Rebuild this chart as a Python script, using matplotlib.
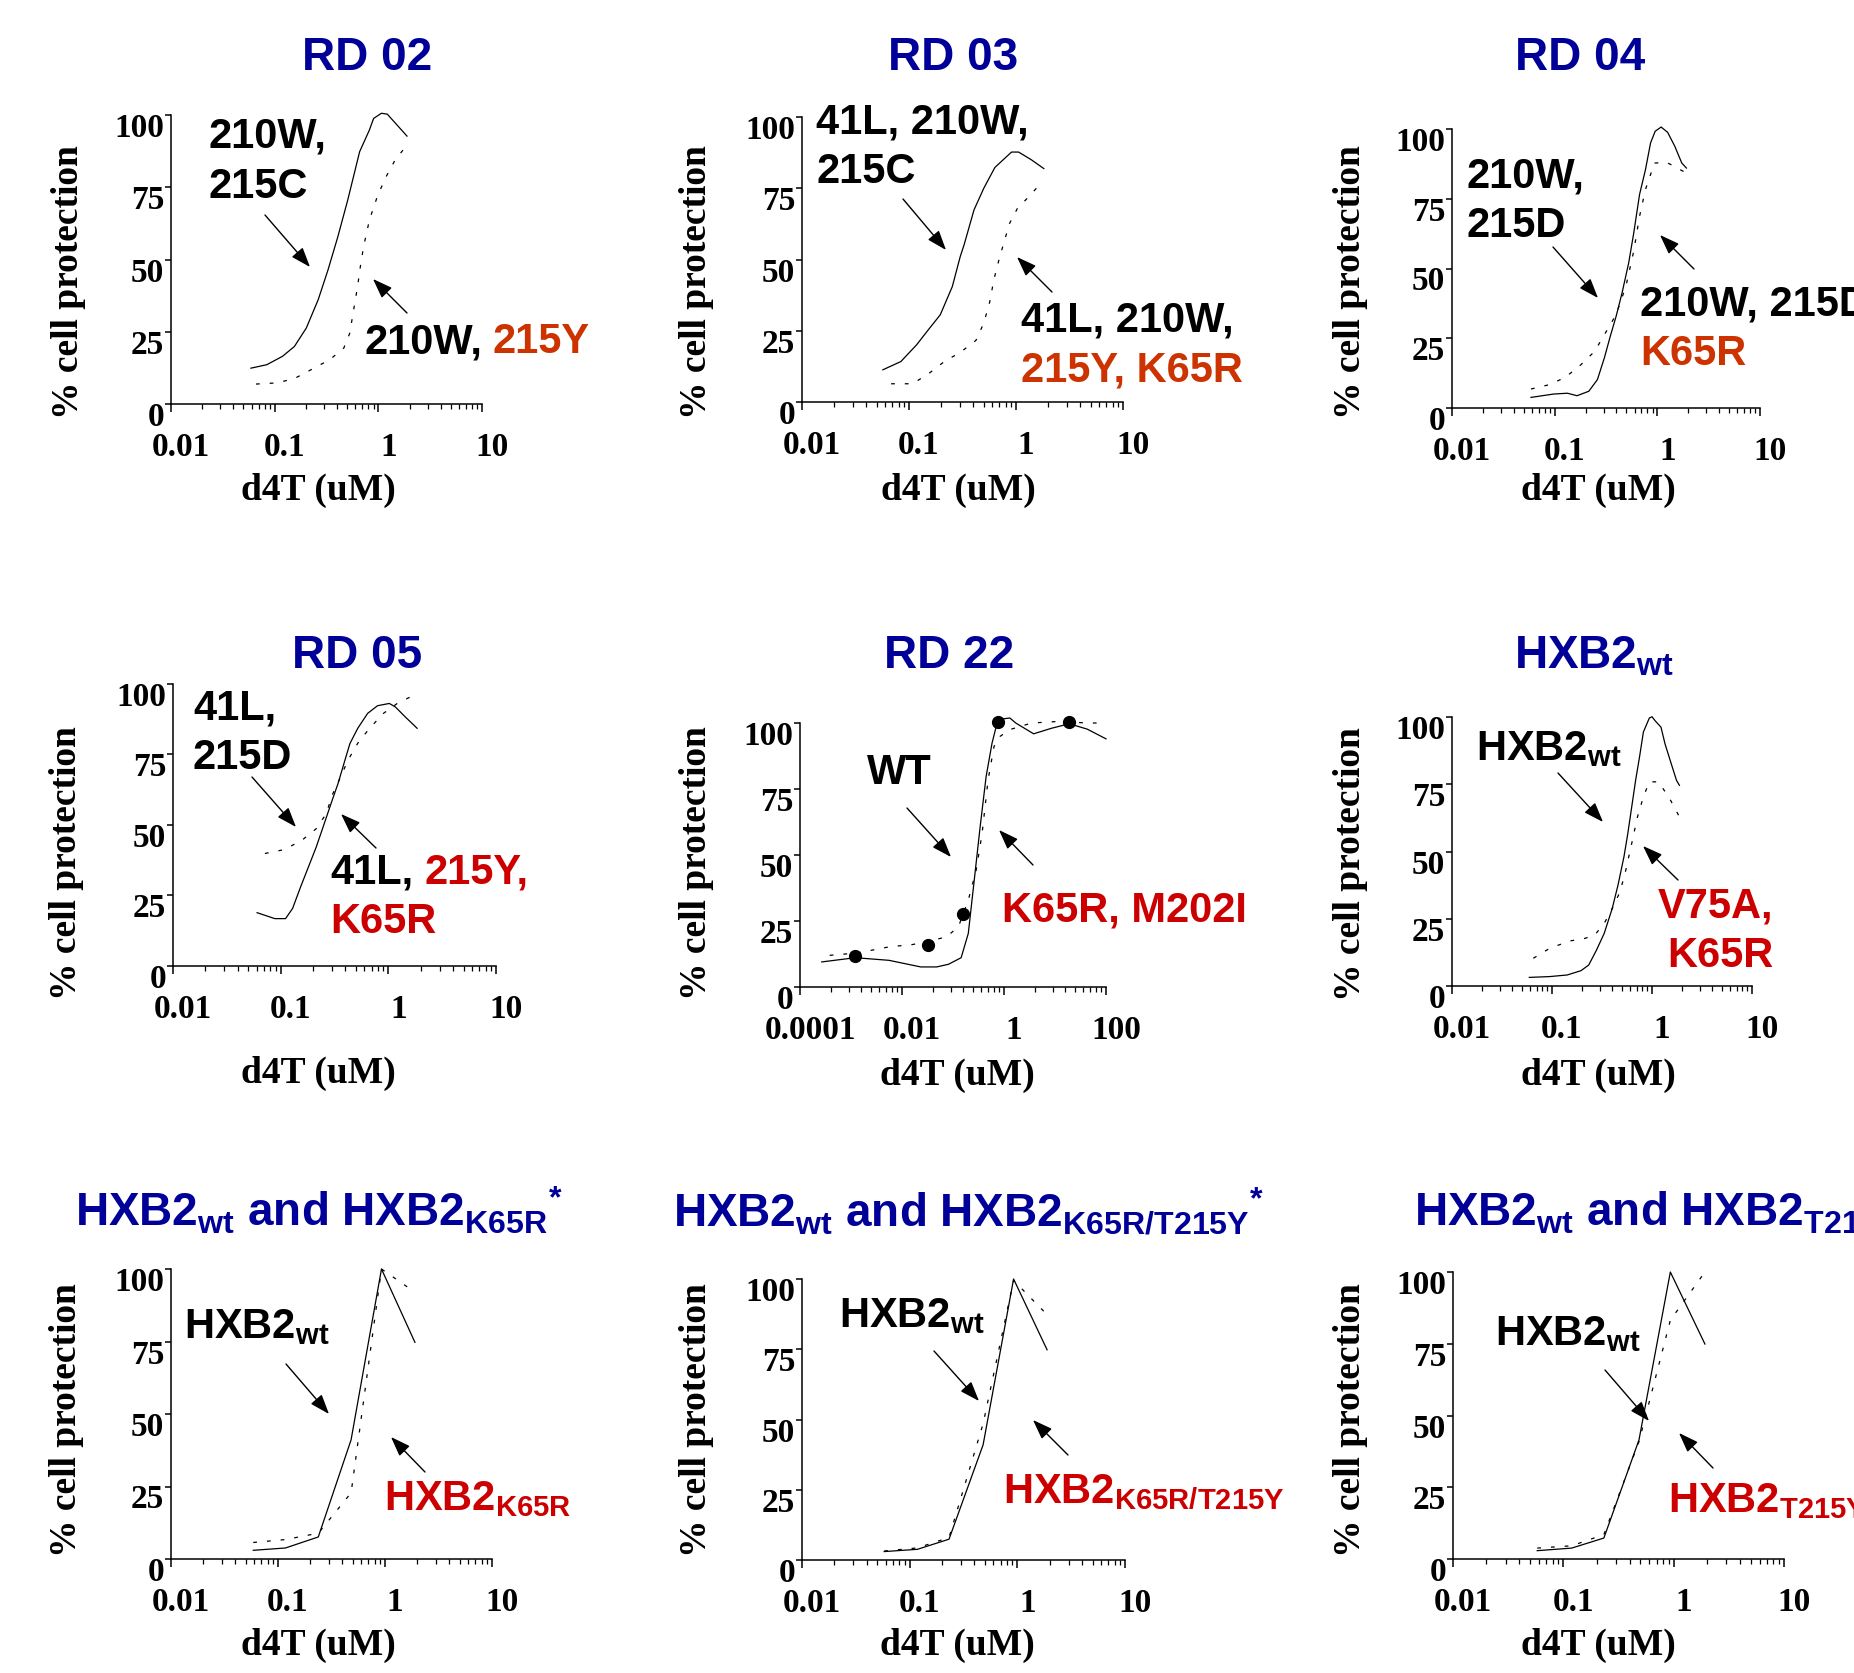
import matplotlib
matplotlib.use('Agg')
import matplotlib.pyplot as plt
from matplotlib.ticker import LogLocator, NullFormatter
from matplotlib.transforms import ScaledTranslation

# ---------------- data (d4T in uM, % cell protection) ----------------
# RD 02: solid = 210W,215C ; dotted = 210W,215Y
rd02_solid_x = [0.059, 0.084, 0.119, 0.155, 0.202, 0.263, 0.327, 0.407, 0.507, 0.66, 0.82, 0.90, 1.07, 1.22, 1.33, 1.89]
rd02_solid_y = [12.4, 13.6, 16.5, 19.9, 26.3, 36.1, 46.4, 57.9, 70.6, 87.3, 94.8, 98.8, 100.6, 100.3, 98.8, 92.7]
rd02_dot_x = [0.066, 0.105, 0.155, 0.231, 0.342, 0.465, 0.53, 0.578, 0.631, 0.671, 0.721, 0.822, 0.98, 1.167, 1.45, 1.89]
rd02_dot_y = [6.9, 7.3, 8.8, 12.1, 15.4, 19.4, 24.5, 32.6, 40.7, 47.6, 54.5, 63.8, 71.9, 78.1, 84.4, 89.6]

# RD 03: solid = 41L,210W,215C ; dotted = 41L,210W,215Y,K65R
rd03_solid_x = [0.057, 0.084, 0.118, 0.152, 0.196, 0.254, 0.301, 0.327, 0.405, 0.50, 0.635, 0.908, 1.057, 1.39, 1.82]
rd03_solid_y = [11.3, 14.2, 20.1, 25.4, 30.6, 40.5, 51.0, 55.1, 67.4, 75.0, 82.3, 87.7, 87.7, 85.0, 81.9]
rd03_dot_x = [0.068, 0.108, 0.152, 0.214, 0.301, 0.422, 0.50, 0.569, 0.62, 0.692, 0.766, 0.869, 1.03, 1.33, 1.79]
rd03_dot_y = [6.4, 6.4, 9.9, 14.2, 17.4, 21.6, 27.7, 35.2, 42.8, 49.8, 55.6, 62.6, 67.9, 72.2, 77.6]

# RD 04: solid = 210W,215D ; dotted = 210W,215D,K65R
rd04_solid_x = [0.0588, 0.0977, 0.133, 0.165, 0.215, 0.261, 0.305, 0.348, 0.397, 0.453, 0.526, 0.589, 0.671,
                0.766, 0.859, 0.953, 1.089, 1.26, 1.48, 1.73, 1.92]
rd04_solid_y = [3.8, 5.0, 5.3, 4.4, 6.0, 10.2, 18.0, 25.7, 32.9, 41.2, 52.0, 62.7, 76.5,
                85.4, 95.0, 99.2, 100.7, 98.8, 93.8, 87.8, 86.0]
rd04_dot_x = [0.0588, 0.0895, 0.127, 0.180, 0.245, 0.319, 0.397, 0.494, 0.589, 0.671, 0.766, 0.938, 1.24, 1.92]
rd04_dot_y = [6.8, 8.4, 11.0, 15.5, 20.3, 27.5, 33.5, 43.6, 56.2, 68.7, 78.3, 87.8, 88.0, 84.2]

# RD 05: solid = 41L,215D ; dotted = 41L,215Y,K65R
rd05_solid_x = [0.0604, 0.0883, 0.111, 0.129, 0.153, 0.181, 0.214, 0.254, 0.301, 0.341, 0.404, 0.44, 0.52,
                0.643, 0.794, 1.02, 1.16, 1.43, 1.85]
rd05_solid_y = [18.9, 16.8, 16.8, 20.4, 28.0, 35.1, 42.2, 50.5, 58.8, 64.7, 74.2, 78.9, 84.3,
                89.6, 92.3, 93.1, 91.9, 88.4, 84.3]
rd05_dot_x = [0.0714, 0.109, 0.16, 0.214, 0.265, 0.301, 0.361, 0.422, 0.52, 0.67, 0.902, 1.21, 1.85]
rd05_dot_y = [39.9, 41.3, 44.8, 48.7, 54.0, 60.6, 67.1, 73.0, 79.0, 84.3, 89.6, 93.1, 96.6]

# RD 22: solid = WT ; dotted = K65R,M202I ; dots = measured points
rd22_solid_x = [2.67e-4, 1.22e-3, 5.58e-3, 0.0233, 0.0478, 0.0815, 0.1445, 0.1995, 0.261, 0.341, 0.446,
                0.583, 0.762, 1.30, 1.70, 3.81, 8.51, 19.0, 42.6, 100.0]
rd22_solid_y = [9.5, 11.1, 10.1, 7.6, 7.6, 8.6, 11.1, 20.3, 40.5, 60.8, 79.7,
                92.4, 101.3, 101.9, 100.0, 95.9, 98.0, 99.7, 97.7, 94.0]
rd22_dot_x = [3.82e-4, 1.34e-3, 5.58e-3, 0.0163, 0.0399, 0.0746, 0.1276, 0.1995, 0.285, 0.372, 0.488,
              0.637, 0.834, 1.30, 3.48, 12.2, 42.6, 100.0]
rd22_dot_y = [12.0, 12.9, 15.2, 16.1, 17.7, 19.0, 22.8, 32.9, 44.3, 58.2, 78.5,
              91.1, 94.9, 97.5, 100.0, 100.6, 100.0, 100.0]
rd22_pts_x = [1.22e-3, 0.0322, 0.155, 0.762, 19.0]
rd22_pts_y = [11.6, 15.8, 27.8, 100.3, 100.3]

# HXB2wt panel: solid = HXB2wt ; dotted = V75A,K65R
hxb_solid_x = [0.0593, 0.0948, 0.142, 0.195, 0.233, 0.279, 0.333, 0.40, 0.457, 0.524, 0.573, 0.627, 0.686,
               0.75, 0.82, 0.94, 1.0, 1.075, 1.23, 1.35, 1.54, 1.76, 1.88]
hxb_solid_y = [3.2, 3.5, 4.1, 5.7, 7.8, 13.4, 19.6, 28.8, 37.5, 48.0, 56.7, 66.6, 76.5,
               85.1, 94.4, 99.6, 100.1, 98.6, 96.2, 90.0, 83.2, 76.4, 74.6]
hxb_dot_x = [0.065, 0.0948, 0.149, 0.213, 0.267, 0.333, 0.40, 0.479, 0.547, 0.627, 0.716, 0.82, 0.94, 1.156, 1.47, 1.88]
hxb_dot_y = [10.3, 14.0, 16.7, 17.7, 18.9, 23.3, 28.8, 35.0, 43.1, 53.0, 62.9, 70.3, 75.9, 75.9, 70.3, 62.9]

# bottom row: HXB2wt (solid) against each mutant (dotted)
k65r_x = [0.0587, 0.1175, 0.238, 0.482, 0.927, 1.905]
k65r_wt_y = [3.0, 3.8, 7.6, 41.1, 100.0, 74.7]
k65r_mut_y = [5.7, 6.7, 8.9, 22.8, 100.0, 92.0]

k65rt_x = [0.058, 0.118, 0.232, 0.481, 0.923, 1.89]
k65rt_wt_y = [3.0, 3.8, 7.4, 41.0, 100.0, 74.8]
k65rt_mut_y = [3.2, 4.3, 8.0, 48.5, 99.5, 87.3]

t215y_x = [0.058, 0.119, 0.233, 0.485, 0.933, 1.92]
t215y_wt_y = [2.9, 3.8, 7.3, 41.5, 100.0, 74.9]
t215y_mut_y = [3.8, 4.6, 8.5, 40.9, 83.2, 100.0]

y_ticks = [0, 25, 50, 75, 100]
x_ticks_std = [0.01, 0.1, 1, 10]
x_labels_std = ['0.01', '0.1', '1', '10']
x_ticks_rd22 = [0.0001, 0.01, 1, 100]
x_labels_rd22 = ['0.0001', '0.01', '1', '100']

# ---------------- styling ----------------
W, H, DPI = 1854, 1673, 100
SANS = 'Liberation Sans'
SERIF = 'Liberation Serif'
plt.rcParams['mathtext.default'] = 'regular'

BLUE = '#000099'
ORANGE = '#CC3300'
RED = '#CC0000'
TITLE_FS = 33
NOTE_FS = 30
DOT = (0, (3, 8))

fig = plt.figure(figsize=(W / DPI, H / DPI), dpi=DPI)


def fx(x):
    return x / W


def fy(y):
    return 1 - y / H


def shift(dx, dy):
    # pixel offset (dy positive = down)
    return ScaledTranslation(dx / DPI, -dy / DPI, fig.dpi_scale_trans)


def panel(box, xlim, xticks, xlabels, ylab, xlab, minor_base=10, minor_subs=range(2, 10)):
    left, right, bottom, top = box
    ax = fig.add_axes([fx(left), fy(bottom), (right - left) / W, (bottom - top) / H])
    ax.set_xscale('log')
    ax.set_xlim(*xlim)
    ax.set_ylim(0, 100)
    ax.spines[['top', 'right']].set_visible(False)
    ax.spines[['left', 'bottom']].set_linewidth(1.1)
    ax.tick_params(axis='x', which='major', length=5.5, width=1.1, pad=15, labelsize=24)
    ax.tick_params(axis='x', which='minor', length=3.5, width=0.9)
    ax.tick_params(axis='y', which='major', length=4.5, width=1.1, pad=0.5, labelsize=24)
    ax.set_xticks(xticks)
    ax.set_xticklabels(xlabels, fontfamily=SERIF, fontweight='bold')
    ax.xaxis.set_minor_locator(LogLocator(base=minor_base, subs=list(minor_subs)))
    ax.xaxis.set_minor_formatter(NullFormatter())
    ax.set_yticks(y_ticks)
    ax.set_yticklabels([str(v) for v in y_ticks], fontfamily=SERIF, fontweight='bold', va='baseline')
    for lbl in ax.get_xticklabels():
        lbl.set_transform(lbl.get_transform() + shift(10, 0))
    for lbl in ax.get_yticklabels():
        lbl.set_transform(lbl.get_transform() + shift(0, 22))
    ax.set_ylabel('% cell protection', fontfamily=SERIF, fontweight='bold', fontsize=27,
                  va='center', ha='center')
    ax.yaxis.set_label_coords(fx(ylab[0]), fy(ylab[1]), transform=fig.transFigure)
    ax.set_xlabel('d4T (uM)', fontfamily=SERIF, fontweight='bold', fontsize=27, va='center')
    ax.xaxis.set_label_coords(fx(xlab[0]), fy(xlab[1]), transform=fig.transFigure)
    return ax


def curves(ax, sx, sy, dx, dy):
    ax.plot(sx, sy, color='black', lw=0.9, clip_on=False)
    ax.plot(dx, dy, color='black', lw=0.9, ls=DOT, clip_on=False)


def title(s, x, y, ha='center'):
    fig.text(fx(x), fy(y), s, fontfamily=SANS, fontweight='bold', fontsize=TITLE_FS,
             color=BLUE, ha=ha, va='baseline')


def note(s, x, y, color='black', ha='left'):
    return fig.text(fx(x), fy(y), s, fontfamily=SANS, fontweight='bold', fontsize=NOTE_FS,
                    color=color, ha=ha, va='baseline')


def note_after(ax, prev, s, color):
    ax.annotate(s, xy=(1, 0), xycoords=prev, xytext=(8, 0), textcoords='offset points',
                fontfamily=SANS, fontweight='bold', fontsize=NOTE_FS, color=color,
                ha='left', va='bottom', annotation_clip=False)


def arrow(ax, tail, head):
    ax.annotate('', xy=(fx(head[0]), fy(head[1])), xycoords='figure fraction',
                xytext=(fx(tail[0]), fy(tail[1])), textcoords='figure fraction',
                arrowprops=dict(arrowstyle='-|>,head_length=0.55,head_width=0.2', lw=1.0,
                                color='black', mutation_scale=22, shrinkA=0, shrinkB=0),
                annotation_clip=False)


# ---- RD 02 ----
ax = panel((171, 482, 404, 115), (0.01, 10), x_ticks_std, x_labels_std, (69, 282), (318, 490))
curves(ax, rd02_solid_x, rd02_solid_y, rd02_dot_x, rd02_dot_y)
title('RD 02', 367, 70)
note('210W,', 208, 147)
note('215C', 208, 198)
t = note('210W,', 364, 353)
note_after(ax, t, '215Y', ORANGE)
arrow(ax, (265, 215), (310, 267))
arrow(ax, (407, 313), (373, 279))

# ---- RD 03 ----
ax = panel((802, 1123, 402, 117), (0.01, 10), x_ticks_std, x_labels_std, (696, 282), (958, 490))
curves(ax, rd03_solid_x, rd03_solid_y, rd03_dot_x, rd03_dot_y)
title('RD 03', 953, 70)
note('41L, 210W,', 816, 133)
note('215C', 816, 183)
note('41L, 210W,', 1021, 332)
note('215Y, K65R', 1021, 382, ORANGE)
arrow(ax, (903, 199), (946, 250))
arrow(ax, (1052, 292), (1017, 257))

# ---- RD 04 ----
ax = panel((1452, 1760, 408, 129), (0.01, 10), x_ticks_std, x_labels_std, (1350, 282), (1598, 490))
curves(ax, rd04_solid_x, rd04_solid_y, rd04_dot_x, rd04_dot_y)
title('RD 04', 1580, 70)
note('210W,', 1467, 188)
note('215D', 1467, 237)
note('210W, 215D', 1640, 315)
note('K65R', 1640, 365, ORANGE)
arrow(ax, (1553, 247), (1598, 298))
arrow(ax, (1694, 269), (1660, 235))

# ---- RD 05 ----
ax = panel((173, 496, 966, 684), (0.01, 10), x_ticks_std, x_labels_std, (67, 863), (318, 1073))
curves(ax, rd05_solid_x, rd05_solid_y, rd05_dot_x, rd05_dot_y)
title('RD 05', 357, 668)
note('41L,', 193, 720)
note('215D', 193, 769)
t = note('41L,', 330, 884)
note_after(ax, t, '215Y,', RED)
note('K65R', 330, 933, RED)
arrow(ax, (252, 777), (296, 827))
arrow(ax, (376, 848), (341, 814))

# ---- RD 22 ----
ax = panel((800, 1106, 987, 723), (0.0001, 100), x_ticks_rd22, x_labels_rd22, (697, 863), (957, 1075),
           minor_base=100, minor_subs=[4, 9, 16, 25, 36, 49, 64, 81])
curves(ax, rd22_solid_x, rd22_solid_y, rd22_dot_x, rd22_dot_y)
ax.plot(rd22_pts_x, rd22_pts_y, 'o', color='black', ms=8.5, clip_on=False)
title('RD 22', 949, 668)
note('WT', 867, 784)
note('K65R, M202I', 1002, 922, RED)
arrow(ax, (907, 808), (951, 857))
arrow(ax, (1033, 865), (999, 830))

# ---- HXB2wt ----
ax = panel((1452, 1752, 986, 717), (0.01, 10), x_ticks_std, x_labels_std, (1350, 864), (1598, 1075))
curves(ax, hxb_solid_x, hxb_solid_y, hxb_dot_x, hxb_dot_y)
title(r'HXB2$_{wt}$', 1594, 668)
note(r'HXB2$_{wt}$', 1476, 760)
note('V75A,', 1773, 917, RED, ha='right')
note('K65R', 1773, 967, RED, ha='right')
arrow(ax, (1558, 773), (1603, 822))
arrow(ax, (1678, 880), (1643, 846))

# ---- HXB2wt and HXB2K65R ----
ax = panel((171, 492, 1559, 1269), (0.01, 10), x_ticks_std, x_labels_std, (67, 1420), (318, 1645))
curves(ax, k65r_x, k65r_wt_y, k65r_x, k65r_mut_y)
title(r'HXB2$_{wt}$ and HXB2$_{K65R}{}^{*}$', 75, 1227, ha='left')
note(r'HXB2$_{wt}$', 184, 1338)
note(r'HXB2$_{K65R}$', 384, 1510, RED)
arrow(ax, (286, 1364), (329, 1414))
arrow(ax, (425, 1472), (391, 1437))

# ---- HXB2wt and HXB2K65R/T215Y ----
ax = panel((802, 1125, 1560, 1279), (0.01, 10), x_ticks_std, x_labels_std, (697, 1420), (957, 1645))
curves(ax, k65rt_x, k65rt_wt_y, k65rt_x, k65rt_mut_y)
title(r'HXB2$_{wt}$ and HXB2$_{K65R/T215Y}{}^{*}$', 673, 1227, ha='left')
note(r'HXB2$_{wt}$', 839, 1327)
note(r'HXB2$_{K65R/T215Y}$', 1003, 1503, RED)
arrow(ax, (934, 1351), (979, 1401))
arrow(ax, (1068, 1455), (1033, 1420))

# ---- HXB2wt and HXB2T215Y ----
ax = panel((1453, 1784, 1559, 1272), (0.01, 10), x_ticks_std, x_labels_std, (1350, 1420), (1598, 1645))
curves(ax, t215y_x, t215y_wt_y, t215y_x, t215y_mut_y)
title(r'HXB2$_{wt}$ and HXB2$_{T215Y}{}^{*}$', 1414, 1227, ha='left')
note(r'HXB2$_{wt}$', 1495, 1345)
note(r'HXB2$_{T215Y}$', 1668, 1512, RED)
arrow(ax, (1605, 1370), (1649, 1421))
arrow(ax, (1713, 1468), (1679, 1433))

fig.savefig('out.png', dpi=DPI, facecolor='white')
